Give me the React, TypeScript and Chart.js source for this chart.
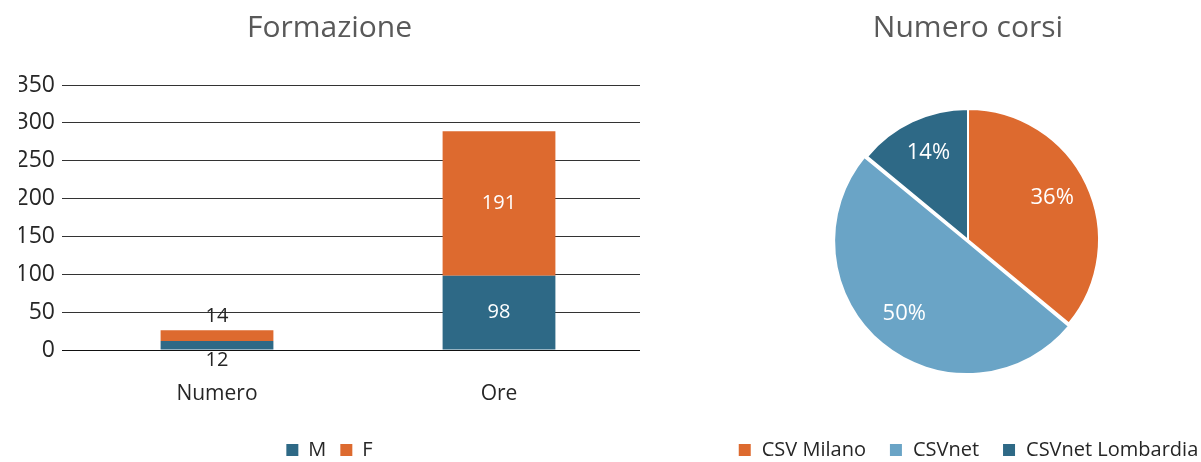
import React, { useEffect, useRef } from 'react';
import { Chart, registerables } from 'chart.js';

Chart.register(...registerables);

const FONT = "'Open Sans', 'Noto Sans', sans-serif";

const barTitle = 'Formazione';
const barCategories = ['Numero', 'Ore'];
const barSeriesNames = ['M', 'F'];
const maleValues = [12, 98];
const femaleValues = [14, 191];
const yAxisMax = 350;
const yAxisStep = 50;

const pieTitle = 'Numero corsi';
const pieLabels = ['CSV Milano', 'CSVnet', 'CSVnet Lombardia'];
const pieValues = [36, 50, 14];

const DARK_BLUE = '#2E6986';
const ORANGE = '#DD6A2F';
const LIGHT_BLUE = '#6AA4C6';
const TEXT_DARK = '#262626';
const TITLE_GREY = '#595959';

const barLabelPlugin = {
  id: 'barLabels',
  afterDatasetsDraw(chart: any) {
    const ctx = chart.ctx;
    ctx.save();
    ctx.font = `normal 20px ${FONT}`;
    ctx.textAlign = 'center';
    ctx.textBaseline = 'middle';
    chart.data.datasets.forEach((ds: any, di: number) => {
      const meta = chart.getDatasetMeta(di);
      meta.data.forEach((bar: any, i: number) => {
        const { x, y, base } = bar.getProps(['x', 'y', 'base'], true);
        const h = Math.abs(base - y);
        const v = ds.data[i];
        let ty: number;
        let color: string;
        if (h >= 26) {
          ty = (y + base) / 2;
          color = '#ffffff';
        } else if (di === 0) {
          ty = base + 11;
          color = TEXT_DARK;
        } else {
          ty = y - 14;
          color = TEXT_DARK;
        }
        ctx.fillStyle = color;
        ctx.fillText(String(v), x, ty);
      });
    });
    ctx.restore();
  },
};

const pieLabelPlugin = {
  id: 'pieLabels',
  afterDatasetsDraw(chart: any) {
    const ctx = chart.ctx;
    const ds = chart.data.datasets[0];
    const total = ds.data.reduce((a: number, b: number) => a + b, 0);
    const meta = chart.getDatasetMeta(0);
    ctx.save();
    ctx.font = `normal 22px ${FONT}`;
    ctx.textAlign = 'center';
    ctx.textBaseline = 'middle';
    ctx.fillStyle = '#ffffff';
    meta.data.forEach((arc: any, i: number) => {
      const { x, y, startAngle, endAngle, outerRadius } = arc.getProps(
        ['x', 'y', 'startAngle', 'endAngle', 'outerRadius'],
        true
      );
      const off = (arc.options && arc.options.offset) || 0;
      const mid = (startAngle + endAngle) / 2;
      const r = off + outerRadius * 0.71;
      const pct = Math.round((ds.data[i] / total) * 100) + '%';
      ctx.fillText(pct, x + Math.cos(mid) * r, y - 3 + Math.sin(mid) * r);
    });
    ctx.restore();
  },
};

export default function App() {
  const barRef = useRef<HTMLCanvasElement>(null);
  const pieRef = useRef<HTMLCanvasElement>(null);

  useEffect(() => {
    document.body.style.margin = '0';
    const bar = new Chart(barRef.current as HTMLCanvasElement, {
      type: 'bar',
      data: {
        labels: barCategories,
        datasets: [
          {
            label: barSeriesNames[0],
            data: maleValues,
            backgroundColor: DARK_BLUE,
            barPercentage: 0.4,
            categoryPercentage: 1,
          },
          {
            label: barSeriesNames[1],
            data: femaleValues,
            backgroundColor: ORANGE,
            barPercentage: 0.4,
            categoryPercentage: 1,
          },
        ],
      },
      options: {
        animation: false,
        responsive: false,
        events: [],
        layout: { padding: { left: 19, right: 10, top: 0, bottom: 0 } },
        plugins: {
          title: {
            display: true,
            text: barTitle,
            color: TITLE_GREY,
            font: { family: FONT, size: 30, weight: 'normal' },
            padding: { top: 10, bottom: 39 },
          },
          legend: {
            position: 'bottom',
            labels: {
              boxWidth: 12,
              boxHeight: 12,
              color: TEXT_DARK,
              font: { family: FONT, size: 20 },
              padding: 14,
            },
          },
          tooltip: { enabled: false },
        },
        scales: {
          x: {
            stacked: true,
            grid: { display: false, drawTicks: false },
            border: { display: false },
            ticks: {
              color: TEXT_DARK,
              padding: 31,
              font: { family: FONT, size: 21, lineHeight: 1.2 },
            },
            afterFit: (s: any) => {
              s.height = 76;
            },
          },
          y: {
            stacked: true,
            min: 0,
            max: yAxisMax,
            border: { display: false },
            grid: {
              color: (c: any) => (c.tick && c.tick.value === 0 ? '#111111' : '#333333'),
              lineWidth: 1,
              drawTicks: true,
              tickLength: 14,
            },
            ticks: {
              stepSize: yAxisStep,
              color: TEXT_DARK,
              padding: 7,
              font: { family: FONT, size: 23 },
            },
            afterFit: (s: any) => {
              s.width = 57;
            },
          },
        },
      } as any,
      plugins: [barLabelPlugin],
    });

    const pie = new Chart(pieRef.current as HTMLCanvasElement, {
      type: 'pie',
      data: {
        labels: pieLabels,
        datasets: [
          {
            data: pieValues,
            backgroundColor: [ORANGE, LIGHT_BLUE, DARK_BLUE],
            borderColor: '#ffffff',
            borderWidth: 2,
            offset: [0, 7, 0],
          },
        ],
      },
      options: {
        animation: false,
        responsive: false,
        events: [],
        radius: 131,
        layout: { padding: 0 },
        plugins: {
          title: {
            display: true,
            text: pieTitle,
            color: TITLE_GREY,
            font: { family: FONT, size: 30, weight: 'normal' },
            padding: { top: 10, bottom: 17 },
          },
          legend: {
            position: 'bottom',
            labels: {
              boxWidth: 14,
              boxHeight: 14,
              color: TEXT_DARK,
              font: { family: FONT, size: 20 },
              padding: 23,
            },
          },
          tooltip: { enabled: false },
        },
      } as any,
      plugins: [pieLabelPlugin],
    });

    return () => {
      bar.destroy();
      pie.destroy();
    };
  }, []);

  return (
    <div style={{ position: 'relative', width: 1201, height: 462, overflow: 'hidden', background: '#ffffff' }}>
      <canvas ref={barRef} width={650} height={470} style={{ position: 'absolute', left: 0, top: 0 }} />
      <canvas ref={pieRef} width={536} height={470} style={{ position: 'absolute', left: 700, top: 0 }} />
    </div>
  );
}
